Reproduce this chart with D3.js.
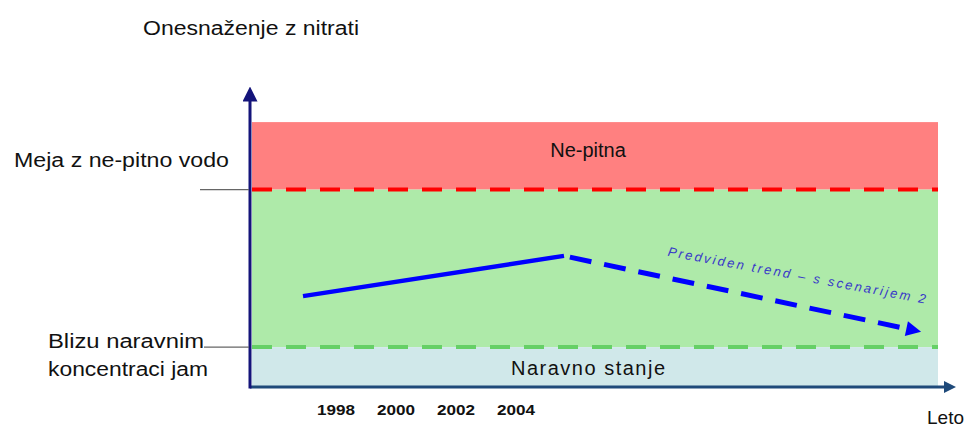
<!DOCTYPE html>
<html>
<head>
<meta charset="utf-8">
<script src="https://cdn.jsdelivr.net/npm/d3@7/dist/d3.min.js"></script>
<style>
  html, body { margin: 0; padding: 0; background: #fff; }
  svg { display: block; font-family: "Liberation Sans", Arial, sans-serif; }
</style>
</head>
<body>
<svg id="chart" width="970" height="428"></svg>
<script>
// Years shown on the horizontal axis
const tickYears = [1998, 2000, 2002, 2004];

// Concentration zones (relative index, 0 = axis origin)
const zoneTop = 88.3;        // upper edge of the shaded area
const limitNonPotable = 65.8; // boundary to non-potable water
const limitNatural = 13.3;    // near natural concentrations
const zoneNames = ["Ne-pitna", "Naravno stanje"];

// Observed trend and projected trend (scenario 2)
const observedYears = [1996.9, 2005.6];
const observedValues = [30.3, 43.7];
const projectedYears = [2005.6, 2017.6];
const projectedValues = [43.7, 18.2];

const titleY = "Onesnaženje z nitrati";
const titleX = "Leto";
const labelLimit = "Meja z ne-pitno vodo";
const labelNatural = ["Blizu naravnim", "koncentraci jam"];
const trendLabel = "Predviden trend – s scenarijem 2";

const svg = d3.select("#chart");

const x = d3.scaleLinear().domain([1995, 2019]).range([246, 966]);
const y = d3.scaleLinear().domain([0, 100]).range([387, 87]);

const left = 252, right = 938;

// Zones
svg.append("rect").attr("x", left).attr("width", right - left)
  .attr("y", y(zoneTop)).attr("height", y(limitNonPotable) - y(zoneTop))
  .attr("fill", "#ff8080");
svg.append("rect").attr("x", left).attr("width", right - left)
  .attr("y", y(limitNonPotable)).attr("height", y(limitNatural) - y(limitNonPotable))
  .attr("fill", "#aeeaa9");
svg.append("rect").attr("x", left).attr("width", right - left)
  .attr("y", y(limitNatural)).attr("height", y(0) - y(limitNatural))
  .attr("fill", "#d0e8ea");

// Threshold lines
svg.append("line").attr("x1", left).attr("x2", right)
  .attr("y1", y(limitNonPotable)).attr("y2", y(limitNonPotable))
  .attr("stroke", "#ff0000").attr("stroke-width", 4)
  .attr("stroke-dasharray", "20,14");
svg.append("line").attr("x1", left).attr("x2", right)
  .attr("y1", y(limitNatural)).attr("y2", y(limitNatural))
  .attr("stroke", "#66d066").attr("stroke-width", 4)
  .attr("stroke-dasharray", "20,14");

// Zone names
svg.append("text").attr("x", 588).attr("y", y(limitNonPotable) - 33)
  .attr("text-anchor", "middle").attr("font-size", 20).attr("fill", "#111")
  .text(zoneNames[0]);
svg.append("text").attr("x", 588).attr("y", y(0) - 12)
  .attr("text-anchor", "middle").attr("font-size", 20).attr("fill", "#111")
  .attr("textLength", 154).attr("lengthAdjust", "spacing")
  .text(zoneNames[1]);

// Axes
const defs = svg.append("defs");
defs.append("marker").attr("id", "arrY").attr("viewBox", "0 0 10 10")
  .attr("refX", 5).attr("refY", 5).attr("markerWidth", 5).attr("markerHeight", 5)
  .attr("orient", "auto").attr("markerUnits", "strokeWidth")
  .append("path").attr("d", "M0,0 L10,5 L0,10 Z").attr("fill", "#14147a");
defs.append("marker").attr("id", "arrX").attr("viewBox", "0 0 10 10")
  .attr("refX", 5).attr("refY", 5).attr("markerWidth", 4.5).attr("markerHeight", 4)
  .attr("orient", "auto").attr("markerUnits", "strokeWidth")
  .append("path").attr("d", "M0,0 L10,5 L0,10 Z").attr("fill", "#1f4a7a");
defs.append("marker").attr("id", "arrT").attr("viewBox", "0 0 10 10")
  .attr("refX", 2).attr("refY", 5).attr("markerWidth", 3.4).attr("markerHeight", 3)
  .attr("orient", "auto").attr("markerUnits", "strokeWidth")
  .append("path").attr("d", "M0,0 L10,5 L0,10 Z").attr("fill", "#0000ff");

svg.append("line").attr("x1", 250).attr("x2", 950)
  .attr("y1", y(0)).attr("y2", y(0))
  .attr("stroke", "#1f4a7a").attr("stroke-width", 3)
  .attr("marker-end", "url(#arrX)");
svg.append("line").attr("x1", 250).attr("x2", 250)
  .attr("y1", y(0) + 1.5).attr("y2", 94)
  .attr("stroke", "#14147a").attr("stroke-width", 3)
  .attr("marker-end", "url(#arrY)");

// Year ticks
svg.append("g").selectAll("text").data(tickYears).join("text")
  .attr("x", d => x(d)).attr("y", 415)
  .attr("text-anchor", "middle").attr("font-size", 14).attr("font-weight", "bold")
  .attr("fill", "#111").attr("textLength", 38).attr("lengthAdjust", "spacingAndGlyphs")
  .text(d => d);

// Axis titles
svg.append("text").attr("x", 143).attr("y", 35).attr("font-size", 20).attr("fill", "#111")
  .attr("textLength", 216).attr("lengthAdjust", "spacingAndGlyphs")
  .text(titleY);
svg.append("text").attr("x", 964).attr("y", 424).attr("font-size", 19).attr("fill", "#111")
  .attr("text-anchor", "end")
  .text(titleX);

// Threshold labels with leader lines
svg.append("line").attr("x1", 200).attr("x2", 249)
  .attr("y1", y(limitNonPotable)).attr("y2", y(limitNonPotable))
  .attr("stroke", "#666").attr("stroke-width", 1.2);
svg.append("text").attr("x", 14).attr("y", 167).attr("font-size", 20).attr("fill", "#111")
  .attr("textLength", 215).attr("lengthAdjust", "spacingAndGlyphs")
  .text(labelLimit);

svg.append("line").attr("x1", 204).attr("x2", 249)
  .attr("y1", y(limitNatural)).attr("y2", y(limitNatural))
  .attr("stroke", "#666").attr("stroke-width", 1.2);
svg.append("text").attr("x", 48).attr("y", 348).attr("font-size", 20).attr("fill", "#111")
  .attr("textLength", 156).attr("lengthAdjust", "spacingAndGlyphs")
  .text(labelNatural[0]);
svg.append("text").attr("x", 48).attr("y", 376).attr("font-size", 20).attr("fill", "#111")
  .attr("textLength", 160).attr("lengthAdjust", "spacingAndGlyphs")
  .text(labelNatural[1]);

// Trend lines
const line = d3.line().x(d => x(d[0])).y(d => y(d[1]));
svg.append("path").datum(d3.zip(observedYears, observedValues))
  .attr("d", line).attr("fill", "none").attr("stroke", "#0000ff")
  .attr("stroke-width", 4.5).attr("stroke-linecap", "butt");

const proj = d3.zip(projectedYears, projectedValues);
// shorten the dashed path so the arrowhead ends at the last point
const p0 = [x(proj[0][0]), y(proj[0][1])], p1 = [x(proj[1][0]), y(proj[1][1])];
const len = Math.hypot(p1[0] - p0[0], p1[1] - p0[1]);
const ux = (p1[0] - p0[0]) / len, uy = (p1[1] - p0[1]) / len;
const headLen = 15;
svg.append("path")
  .attr("d", `M${p0[0] + ux * 6},${p0[1] + uy * 6}L${p1[0] - ux * headLen},${p1[1] - uy * headLen}`)
  .attr("fill", "none").attr("stroke", "#0000ff").attr("stroke-width", 5)
  .attr("stroke-dasharray", "22,13")
  .attr("marker-end", "url(#arrT)");

// Trend label, parallel to the projected line
const angle = Math.atan2(p1[1] - p0[1], p1[0] - p0[0]) * 180 / Math.PI - 1.5;
const t = 0.63;
const cx = p0[0] + (p1[0] - p0[0]) * t + uy * 25;
const cy = p0[1] + (p1[1] - p0[1]) * t - ux * 25;
svg.append("text").attr("transform", `translate(${cx},${cy}) rotate(${angle})`)
  .attr("text-anchor", "middle").attr("font-size", 13).attr("font-style", "italic")
  .attr("fill", "#3838c8").attr("textLength", 262).attr("lengthAdjust", "spacing")
  .text(trendLabel);
</script>
</body>
</html>
